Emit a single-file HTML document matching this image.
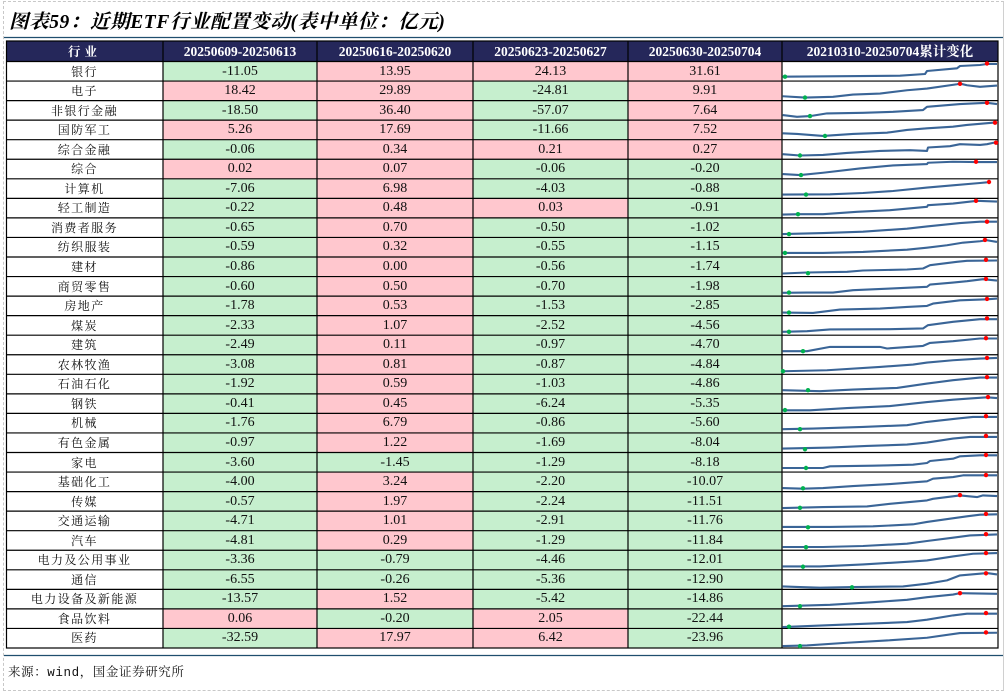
<!DOCTYPE html>
<html><head><meta charset="utf-8">
<style>
html,body{margin:0;padding:0;background:#fff;}
body{width:1006px;height:691px;position:relative;overflow:hidden;}
.frame{position:absolute;left:3px;top:1px;width:999px;height:688px;border:1px dashed #c8c8c8;border-right:1px solid #d0d0d0;}
.title{position:absolute;left:9px;top:6px;font-family:"Liberation Serif","Noto Serif CJK SC",serif;font-weight:bold;font-style:italic;font-size:19.5px;letter-spacing:0.6px;color:#000;white-space:nowrap;}
.r{position:absolute;left:6px;width:992px;height:19.55px;display:flex;}
.c{height:100%;text-align:center;line-height:20.5px;font-family:"Liberation Serif","Noto Serif CJK SC",serif;font-size:14px;color:#111;white-space:nowrap;overflow:hidden;}
.c:nth-child(1){width:157px;font-size:12px;letter-spacing:1.4px;}
.c:nth-child(2){width:154px;}
.c:nth-child(3){width:156px;}
.c:nth-child(4){width:155px;}
.c:nth-child(5){width:154px;}
.c:nth-child(6){width:216px;}
.p{background:#ffc7ce;}
.g{background:#c6efce;}
.h{top:41px;height:20.5px;background:#25275a;}
.h .c{color:#fff;font-weight:bold;font-size:13.5px;line-height:22px;}
.h .c:nth-child(1){font-size:12.5px;letter-spacing:4px;}
.foot{position:absolute;left:8px;top:662px;font-family:"Liberation Mono","Noto Serif CJK SC",monospace;font-size:12.5px;letter-spacing:0.6px;color:#111;white-space:nowrap;}
svg{position:absolute;left:0;top:0;}
</style></head><body>
<div class="frame"></div>
<div class="title">图表59：近期ETF行业配置变动(表中单位：亿元)</div>

<div class="r h"><div class="c">行业</div><div class="c">20250609-20250613</div><div class="c">20250616-20250620</div><div class="c">20250623-20250627</div><div class="c">20250630-20250704</div><div class="c">20210310-20250704累计变化</div></div>

<div class="r" style="top:61.5px"><div class="c">银行</div><div class="c g">-11.05</div><div class="c p">13.95</div><div class="c p">24.13</div><div class="c p">31.61</div><div class="c"></div></div>
<div class="r" style="top:81.05px"><div class="c">电子</div><div class="c p">18.42</div><div class="c p">29.89</div><div class="c g">-24.81</div><div class="c p">9.91</div><div class="c"></div></div>
<div class="r" style="top:100.6px"><div class="c">非银行金融</div><div class="c g">-18.50</div><div class="c p">36.40</div><div class="c g">-57.07</div><div class="c p">7.64</div><div class="c"></div></div>
<div class="r" style="top:120.15px"><div class="c">国防军工</div><div class="c p">5.26</div><div class="c p">17.69</div><div class="c g">-11.66</div><div class="c p">7.52</div><div class="c"></div></div>
<div class="r" style="top:139.7px"><div class="c">综合金融</div><div class="c g">-0.06</div><div class="c p">0.34</div><div class="c p">0.21</div><div class="c p">0.27</div><div class="c"></div></div>
<div class="r" style="top:159.25px"><div class="c">综合</div><div class="c p">0.02</div><div class="c p">0.07</div><div class="c g">-0.06</div><div class="c g">-0.20</div><div class="c"></div></div>
<div class="r" style="top:178.8px"><div class="c">计算机</div><div class="c g">-7.06</div><div class="c p">6.98</div><div class="c g">-4.03</div><div class="c g">-0.88</div><div class="c"></div></div>
<div class="r" style="top:198.35px"><div class="c">轻工制造</div><div class="c g">-0.22</div><div class="c p">0.48</div><div class="c p">0.03</div><div class="c g">-0.91</div><div class="c"></div></div>
<div class="r" style="top:217.9px"><div class="c">消费者服务</div><div class="c g">-0.65</div><div class="c p">0.70</div><div class="c g">-0.50</div><div class="c g">-1.02</div><div class="c"></div></div>
<div class="r" style="top:237.45px"><div class="c">纺织服装</div><div class="c g">-0.59</div><div class="c p">0.32</div><div class="c g">-0.55</div><div class="c g">-1.15</div><div class="c"></div></div>
<div class="r" style="top:257px"><div class="c">建材</div><div class="c g">-0.86</div><div class="c p">0.00</div><div class="c g">-0.56</div><div class="c g">-1.74</div><div class="c"></div></div>
<div class="r" style="top:276.55px"><div class="c">商贸零售</div><div class="c g">-0.60</div><div class="c p">0.50</div><div class="c g">-0.70</div><div class="c g">-1.98</div><div class="c"></div></div>
<div class="r" style="top:296.1px"><div class="c">房地产</div><div class="c g">-1.78</div><div class="c p">0.53</div><div class="c g">-1.53</div><div class="c g">-2.85</div><div class="c"></div></div>
<div class="r" style="top:315.65px"><div class="c">煤炭</div><div class="c g">-2.33</div><div class="c p">1.07</div><div class="c g">-2.52</div><div class="c g">-4.56</div><div class="c"></div></div>
<div class="r" style="top:335.2px"><div class="c">建筑</div><div class="c g">-2.49</div><div class="c p">0.11</div><div class="c g">-0.97</div><div class="c g">-4.70</div><div class="c"></div></div>
<div class="r" style="top:354.75px"><div class="c">农林牧渔</div><div class="c g">-3.08</div><div class="c p">0.81</div><div class="c g">-0.87</div><div class="c g">-4.84</div><div class="c"></div></div>
<div class="r" style="top:374.3px"><div class="c">石油石化</div><div class="c g">-1.92</div><div class="c p">0.59</div><div class="c g">-1.03</div><div class="c g">-4.86</div><div class="c"></div></div>
<div class="r" style="top:393.85px"><div class="c">钢铁</div><div class="c g">-0.41</div><div class="c p">0.45</div><div class="c g">-6.24</div><div class="c g">-5.35</div><div class="c"></div></div>
<div class="r" style="top:413.4px"><div class="c">机械</div><div class="c g">-1.76</div><div class="c p">6.79</div><div class="c g">-0.86</div><div class="c g">-5.60</div><div class="c"></div></div>
<div class="r" style="top:432.95px"><div class="c">有色金属</div><div class="c g">-0.97</div><div class="c p">1.22</div><div class="c g">-1.69</div><div class="c g">-8.04</div><div class="c"></div></div>
<div class="r" style="top:452.5px"><div class="c">家电</div><div class="c g">-3.60</div><div class="c g">-1.45</div><div class="c g">-1.29</div><div class="c g">-8.18</div><div class="c"></div></div>
<div class="r" style="top:472.05px"><div class="c">基础化工</div><div class="c g">-4.00</div><div class="c p">3.24</div><div class="c g">-2.20</div><div class="c g">-10.07</div><div class="c"></div></div>
<div class="r" style="top:491.6px"><div class="c">传媒</div><div class="c g">-0.57</div><div class="c p">1.97</div><div class="c g">-2.24</div><div class="c g">-11.51</div><div class="c"></div></div>
<div class="r" style="top:511.15px"><div class="c">交通运输</div><div class="c g">-4.71</div><div class="c p">1.01</div><div class="c g">-2.91</div><div class="c g">-11.76</div><div class="c"></div></div>
<div class="r" style="top:530.7px"><div class="c">汽车</div><div class="c g">-4.81</div><div class="c p">0.29</div><div class="c g">-1.29</div><div class="c g">-11.84</div><div class="c"></div></div>
<div class="r" style="top:550.25px"><div class="c">电力及公用事业</div><div class="c g">-3.36</div><div class="c g">-0.79</div><div class="c g">-4.46</div><div class="c g">-12.01</div><div class="c"></div></div>
<div class="r" style="top:569.8px"><div class="c">通信</div><div class="c g">-6.55</div><div class="c g">-0.26</div><div class="c g">-5.36</div><div class="c g">-12.90</div><div class="c"></div></div>
<div class="r" style="top:589.35px"><div class="c">电力设备及新能源</div><div class="c g">-13.57</div><div class="c p">1.52</div><div class="c g">-5.42</div><div class="c g">-14.86</div><div class="c"></div></div>
<div class="r" style="top:608.9px"><div class="c">食品饮料</div><div class="c p">0.06</div><div class="c g">-0.20</div><div class="c p">2.05</div><div class="c g">-22.44</div><div class="c"></div></div>
<div class="r" style="top:628.45px"><div class="c">医药</div><div class="c g">-32.59</div><div class="c p">17.97</div><div class="c p">6.42</div><div class="c g">-23.96</div><div class="c"></div></div>

<div class="foot">来源：wind，国金证券研究所</div>

<svg width="1006" height="691" viewBox="0 0 1006 691">
<line x1="4" y1="37.5" x2="1003" y2="37.5" stroke="#1f4e6e" stroke-width="1.3"/>
<line x1="4" y1="655.5" x2="1003" y2="655.5" stroke="#1f4e6e" stroke-width="1.3"/>
<g stroke="#000" stroke-width="1.2" fill="none">
<rect x="6.5" y="41" width="991.5" height="607"/>
<line x1="163" y1="41" x2="163" y2="648"/>
<line x1="317" y1="41" x2="317" y2="648"/>
<line x1="473" y1="41" x2="473" y2="648"/>
<line x1="628" y1="41" x2="628" y2="648"/>
<line x1="782" y1="41" x2="782" y2="648"/>
<path d="M6 61.5H998M6 81.05H998M6 100.6H998M6 120.15H998M6 139.7H998M6 159.25H998M6 178.8H998M6 198.35H998M6 217.9H998M6 237.45H998M6 257H998M6 276.55H998M6 296.1H998M6 315.65H998M6 335.2H998M6 354.75H998M6 374.3H998M6 393.85H998M6 413.4H998M6 432.95H998M6 452.5H998M6 472.05H998M6 491.6H998M6 511.15H998M6 530.7H998M6 550.25H998M6 569.8H998M6 589.35H998M6 608.9H998M6 628.45H998"/>
</g>
<g fill="none" stroke="#3a6597" stroke-width="2.1" stroke-linejoin="round">
<polyline transform="translate(780,62)" points="2.7,14.7 120,13.7 145,12 147,9 177,6.3 180,4 200,3 207,2 217,2"/>
<polyline transform="translate(780,81.55)" points="2.7,14.7 25,16 53,15.3 73,13 100,12 127,8.7 147,7 177,2.7 180,2 187,3.7 200,5.3 217,4"/>
<polyline transform="translate(780,101.1)" points="2.7,14 17,15.7 30,15 47,12.3 83,11.7 113,10.7 143,9 147,5.7 180,3 207,1.7 217,3"/>
<polyline transform="translate(780,120.65)" points="2.7,12.7 17,13.3 43,15.3 73,13.3 107,12 127,9.3 147,7.7 173,6 187,4.3 213,2 217,2.7"/>
<polyline transform="translate(780,140.2)" points="2.7,14 20,15.3 43,14.7 67,12.7 100,10.7 130,10 147,10.7 148,7.3 170,6 180,4 200,4.7 207,4 213,2.7 217,2"/>
<polyline transform="translate(780,159.75)" points="2.7,14.3 20,15.3 43,13 80,8.7 113,5.7 147,4.3 148,3 173,2 197,2.3 217,2.3"/>
<polyline transform="translate(780,179.3)" points="2.7,15.3 50,15 83,13.7 113,11.7 147,8.3 173,6 200,3.7 207,3"/>
<polyline transform="translate(780,198.85)" points="2.7,15.7 20,15.3 43,15.3 77,13 110,11.3 147,8 148,6.3 173,4.7 197,2 217,2.7"/>
<polyline transform="translate(780,218.4)" points="2.7,15.7 43,14.7 83,13.3 127,10.3 147,8 180,4.7 200,3.3 217,3.3"/>
<polyline transform="translate(780,237.95)" points="2.7,15 43,15 83,14 127,11.7 147,9.7 167,7.3 183,4.7 200,3.3 207,2.3 217,4"/>
<polyline transform="translate(780,257.5)" points="2.7,16 27,15 67,14.3 83,13 127,12 143,11 150,7.7 177,4.3 187,3.3 217,3"/>
<polyline transform="translate(780,277.05)" points="2.7,15.8 27,15.5 53,15.5 73,13.1 110,11.5 147,9.8 150,7.5 173,5.5 187,4.1 203,2.1 217,3.5"/>
<polyline transform="translate(780,296.6)" points="2.7,16 33,16.3 60,13 100,12 127,10.3 147,9.3 153,7 180,3.7 207,2.7 217,2"/>
<polyline transform="translate(780,316.15)" points="2.7,15.7 27,15 50,13.3 110,13 143,12.3 148,9 173,5.7 200,3 217,3"/>
<polyline transform="translate(780,335.7)" points="2.7,15.5 27,15.5 50,11.2 100,11.2 107,12.8 143,10.2 150,7.2 173,5.5 200,2.8 217,2.8"/>
<polyline transform="translate(780,355.25)" points="2.7,16 47,15 100,11.7 133,9.3 147,7.3 173,5 200,3.3 217,2.7"/>
<polyline transform="translate(780,374.8)" points="2.7,15.4 40,16.4 73,14.8 117,13.1 147,8.8 173,5.4 200,2.8 217,2.8"/>
<polyline transform="translate(780,394.35)" points="2.7,16 30,16 67,13.7 110,11.7 147,7.7 173,5.3 187,4.3 207,3 217,3.7"/>
<polyline transform="translate(780,413.9)" points="2.7,15.3 33,14.7 83,13 127,11.3 147,8 177,4.7 193,3 217,3"/>
<polyline transform="translate(780,433.45)" points="2.7,15.1 50,14.1 87,12.5 127,11.1 147,9.1 173,5.1 190,3.5 217,3.5"/>
<polyline transform="translate(780,453)" points="2.7,15 43,15 50,13.3 93,12.7 133,11.7 147,10 150,8 173,5.7 180,3.3 200,2.3 217,2.3"/>
<polyline transform="translate(780,472.55)" points="2.7,15.5 23,16.1 43,15.5 73,13.5 110,11.5 147,8.8 153,6.1 173,4.5 183,2.8 217,2.8"/>
<polyline transform="translate(780,492.1)" points="2.7,16 43,15 87,14.3 110,11.7 147,8.3 153,6.7 180,3.3 197,5 203,3.3 217,4"/>
<polyline transform="translate(780,511.65)" points="2.7,15.3 50,15.3 93,14.7 133,12.7 147,10.3 170,7 187,4.7 200,3 217,2.7"/>
<polyline transform="translate(780,531.2)" points="2.7,15.8 43,15.8 83,14.8 127,12.5 147,9.8 173,6.5 190,4.2 217,3.2"/>
<polyline transform="translate(780,550.75)" points="2.7,15.7 40,15.7 83,13.7 133,10.7 147,9.7 173,5.7 193,3 217,2.3"/>
<polyline transform="translate(780,570.3)" points="2.7,16.1 20,16.8 40,17.4 73,16.8 123,16.1 147,13.4 167,10.1 180,5.1 200,3.4 207,2.8 217,4.1"/>
<polyline transform="translate(780,589.85)" points="2.7,16.3 50,15 93,12.3 127,10 147,7.3 173,4.7 180,3.3 217,4"/>
<polyline transform="translate(780,609.4)" points="2.7,17.7 43,16 87,14.3 127,12.7 147,10.3 173,6 187,4.3 217,4.3"/>
<polyline transform="translate(780,628.95)" points="2.7,17.1 27,16.5 67,13.8 107,11.5 147,8.8 180,4.1 217,3.8"/>
</g>
<g fill="#00b050">
<circle cx="785" cy="76.7" r="2.2"/><circle cx="805" cy="97.55" r="2.2"/><circle cx="810" cy="116.1" r="2.2"/><circle cx="825" cy="135.95" r="2.2"/><circle cx="800" cy="155.5" r="2.2"/><circle cx="801" cy="175.05" r="2.2"/><circle cx="806" cy="194.6" r="2.2"/><circle cx="798" cy="214.15" r="2.2"/><circle cx="789" cy="234.1" r="2.2"/><circle cx="785" cy="252.95" r="2.2"/>
<circle cx="808" cy="273.2" r="2.2"/><circle cx="789" cy="292.55" r="2.2"/><circle cx="789" cy="312.6" r="2.2"/><circle cx="789" cy="331.85" r="2.2"/><circle cx="803" cy="351.2" r="2.2"/><circle cx="783" cy="371.25" r="2.2"/><circle cx="808" cy="390.2" r="2.2"/><circle cx="785" cy="410.05" r="2.2"/><circle cx="800" cy="429.2" r="2.2"/><circle cx="805" cy="449.25" r="2.2"/>
<circle cx="806" cy="468" r="2.2"/><circle cx="803" cy="488.35" r="2.2"/><circle cx="800" cy="507.8" r="2.2"/><circle cx="808" cy="527.35" r="2.2"/><circle cx="806" cy="547.2" r="2.2"/><circle cx="803" cy="566.75" r="2.2"/><circle cx="852" cy="587.3" r="2.2"/><circle cx="800" cy="606.15" r="2.2"/><circle cx="789" cy="626.7" r="2.2"/><circle cx="800" cy="646.05" r="2.2"/>
</g>
<g fill="#ff0000">
<circle cx="987" cy="63.5" r="2.2"/><circle cx="960" cy="83.85" r="2.2"/><circle cx="987" cy="102.8" r="2.2"/><circle cx="995" cy="122.65" r="2.2"/><circle cx="996" cy="142.7" r="2.2"/><circle cx="976" cy="161.75" r="2.2"/><circle cx="989" cy="182" r="2.2"/><circle cx="976" cy="200.85" r="2.2"/><circle cx="987" cy="221.7" r="2.2"/><circle cx="985" cy="239.95" r="2.2"/>
<circle cx="986" cy="259.8" r="2.2"/><circle cx="986" cy="278.95" r="2.2"/><circle cx="987" cy="298.9" r="2.2"/><circle cx="987" cy="318.45" r="2.2"/><circle cx="986" cy="338.2" r="2.2"/><circle cx="987" cy="357.95" r="2.2"/><circle cx="987" cy="377.2" r="2.2"/><circle cx="988" cy="397.05" r="2.2"/><circle cx="986" cy="416.2" r="2.2"/><circle cx="986" cy="435.95" r="2.2"/>
<circle cx="986" cy="455" r="2.2"/><circle cx="986" cy="475.05" r="2.2"/><circle cx="960" cy="495.1" r="2.2"/><circle cx="986" cy="513.95" r="2.2"/><circle cx="986" cy="534.2" r="2.2"/><circle cx="986" cy="553.05" r="2.2"/><circle cx="986" cy="573.3" r="2.2"/><circle cx="960" cy="593.15" r="2.2"/><circle cx="986" cy="613.1" r="2.2"/><circle cx="986" cy="632.45" r="2.2"/>
</g>
</svg>
</body></html>
